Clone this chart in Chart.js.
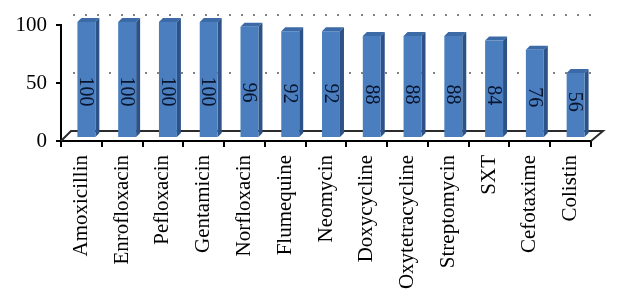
<!DOCTYPE html>
<html>
<head>
<meta charset="utf-8">
<script src="https://cdn.jsdelivr.net/npm/chart.js@4/dist/chart.umd.min.js"></script>
<style>
  html, body { margin: 0; padding: 0; background: #fff; }
  #wrap { width: 618px; height: 307px; position: relative; }
</style>
</head>
<body>
<div id="wrap"><canvas id="chart"></canvas></div>
<script>
const drugs = [
  "Amoxicillin", "Enrofloxacin", "Pefloxacin", "Gentamicin", "Norfloxacin",
  "Flumequine", "Neomycin", "Doxycycline", "Oxytetracycline", "Streptomycin",
  "SXT", "Cefotaxime", "Colistin"
];
const percent = [100, 100, 100, 100, 96, 92, 92, 88, 88, 88, 84, 76, 56];
const yTicks = [0, 50, 100];

const FONT = "'Liberation Serif', 'Times New Roman', serif";
// bars sit in the middle of the 3d floor, wall is at the back
const SHIFT_X = 5, SHIFT_Y = -3;
const DEPTH = 4;
const WALL = 10;

const bar3d = {
  id: "bar3d",
  beforeDatasetsDraw(chart) {
    const {ctx, chartArea} = chart;
    const y = chart.scales.y;
    const left = chartArea.left, right = chartArea.right, bottom = chartArea.bottom;

    ctx.save();
    // dotted gridlines on the back wall
    ctx.strokeStyle = "#5a5a5a";
    ctx.lineWidth = 1.5;
    ctx.setLineDash([2, 10]);
    yTicks.forEach(v => {
      if (v === 0) return;
      const py = y.getPixelForValue(v) - WALL;
      ctx.beginPath();
      ctx.moveTo(left + WALL + 2, py);
      ctx.lineTo(right + WALL, py);
      ctx.stroke();
    });
    ctx.setLineDash([]);

    // floor
    ctx.strokeStyle = "#2b2b2b";
    ctx.lineWidth = 2;
    ctx.beginPath();
    ctx.moveTo(left, bottom);
    ctx.lineTo(left + WALL, bottom - WALL);
    ctx.lineTo(right + WALL + 2, bottom - WALL);
    ctx.lineTo(right, bottom);
    ctx.stroke();
    ctx.restore();

    ctx.save();
    ctx.translate(SHIFT_X, SHIFT_Y);
    chart.getDatasetMeta(0).data.forEach(bar => {
      const l = bar.x - bar.width / 2, r = bar.x + bar.width / 2;
      const t = bar.y, b = bar.base;
      // top face
      ctx.fillStyle = "#3c6aa6";
      ctx.beginPath();
      ctx.moveTo(l, t);
      ctx.lineTo(l + DEPTH, t - DEPTH);
      ctx.lineTo(r + DEPTH, t - DEPTH);
      ctx.lineTo(r, t);
      ctx.closePath();
      ctx.fill();
      // side face
      ctx.fillStyle = "#2c5287";
      ctx.beginPath();
      ctx.moveTo(r, t);
      ctx.lineTo(r + DEPTH, t - DEPTH);
      ctx.lineTo(r + DEPTH, b - DEPTH);
      ctx.lineTo(r, b);
      ctx.closePath();
      ctx.fill();
    });
  },
  afterDatasetsDraw(chart) {
    const {ctx} = chart;
    ctx.restore();
    const y = chart.scales.y;
    ctx.save();
    ctx.fillStyle = "#08152f";
    ctx.font = "20px " + FONT;
    ctx.textAlign = "center";
    ctx.textBaseline = "middle";
    chart.getDatasetMeta(0).data.forEach((bar, i) => {
      const v = percent[i];
      const cy = y.getPixelForValue(20 + v * 0.2) + SHIFT_Y;
      ctx.save();
      ctx.translate(bar.x + SHIFT_X, cy);
      ctx.rotate(Math.PI / 2);
      ctx.fillText(String(v), 0, 1);
      ctx.restore();
    });
    ctx.restore();
  }
};

new Chart(document.getElementById("chart"), {
  type: "bar",
  data: {
    labels: drugs,
    datasets: [{
      data: percent,
      backgroundColor: "#4a7ebf",
      borderWidth: 0,
      categoryPercentage: 1,
      barPercentage: 0.44,
      clip: false
    }]
  },
  options: {
    responsive: true,
    maintainAspectRatio: false,
    animation: false,
    layout: { padding: { top: 25, right: 27, left: 0, bottom: 0 } },
    plugins: {
      legend: { display: false },
      tooltip: { enabled: false }
    },
    scales: {
      x: {
        afterFit(scale) { scale.height = 166; },
        border: { display: true, color: "#000", width: 2 },
        grid: {
          offset: true,
          drawOnChartArea: false,
          drawTicks: true,
          tickLength: 6,
          color: "#000",
          lineWidth: 2
        },
        ticks: {
          minRotation: 90,
          maxRotation: 90,
          autoSkip: false,
          padding: 8,
          color: "#000",
          font: { family: FONT, size: 21 }
        }
      },
      y: {
        min: 0,
        max: 100,
        afterFit(scale) { scale.width = 61; },
        afterBuildTicks(scale) { scale.ticks = yTicks.map(v => ({ value: v })); },
        border: { display: true, color: "#000", width: 2 },
        grid: {
          drawOnChartArea: false,
          drawTicks: true,
          tickLength: 5,
          color: "#000",
          lineWidth: 2
        },
        ticks: {
          padding: 9,
          color: "#000",
          font: { family: FONT, size: 21 }
        }
      }
    }
  },
  plugins: [bar3d]
});
</script>
</body>
</html>
